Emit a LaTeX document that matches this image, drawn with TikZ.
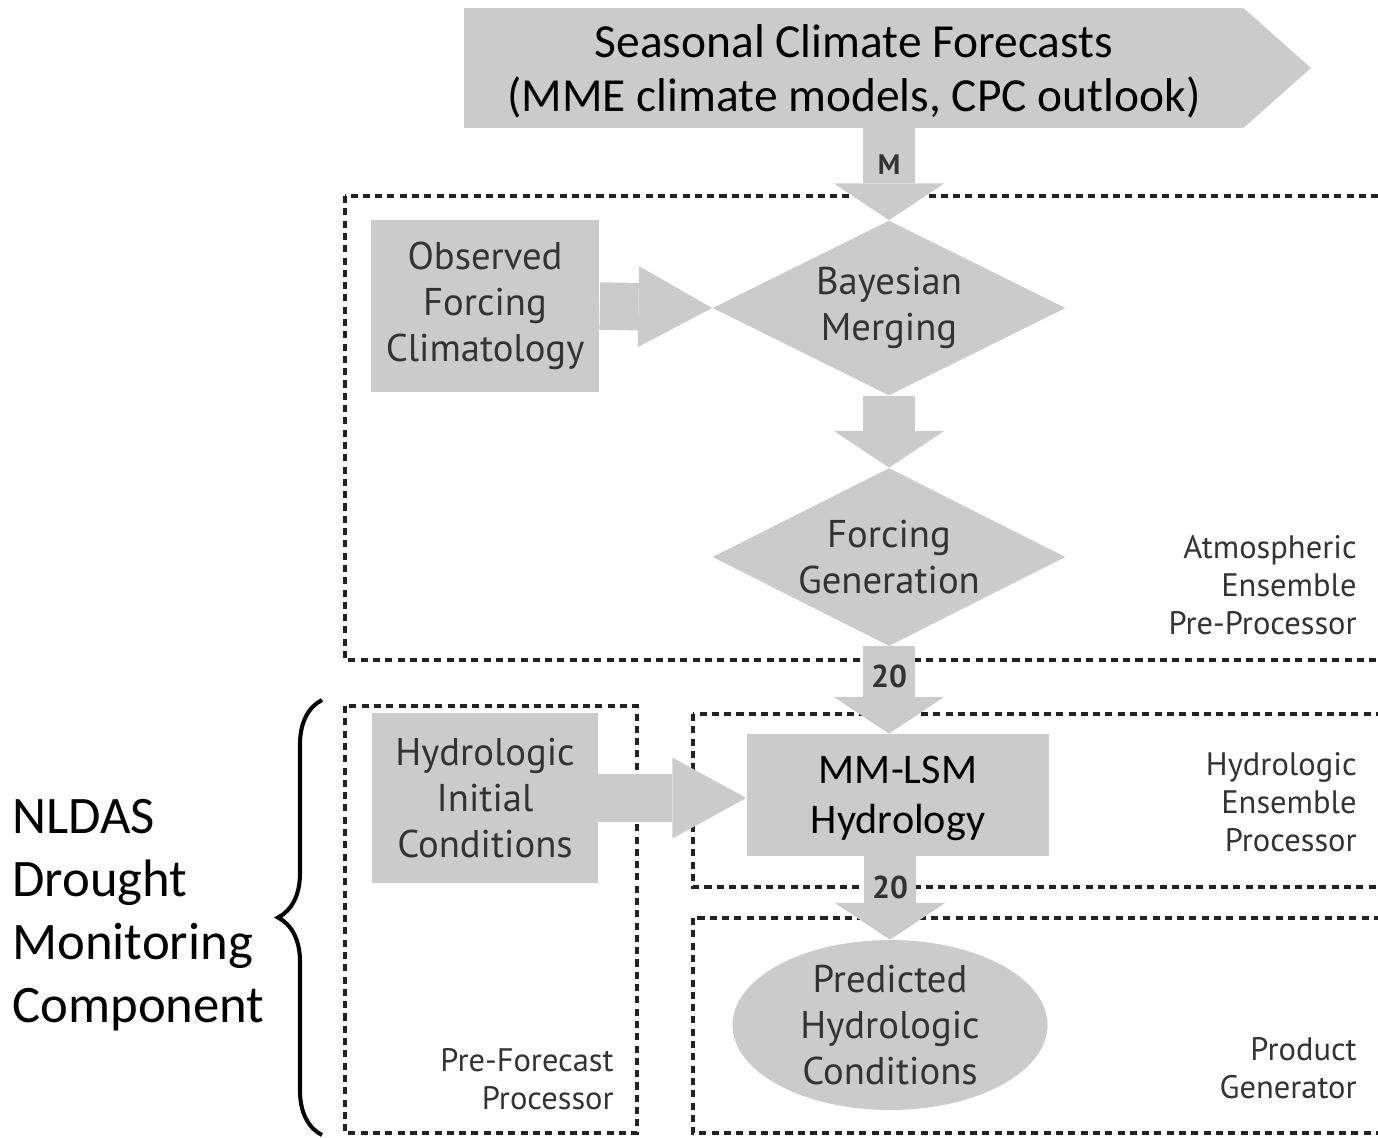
\documentclass[tikz,border=0pt]{standalone}
\usepackage{fontspec}
\setmainfont{Carlito}
\newfontfamily\figfont{PT Sans}
\usetikzlibrary{arrows.meta, shapes.geometric, decorations.pathreplacing}

\definecolor{boxgray}{HTML}{CBCBCB}
\definecolor{figtext}{HTML}{333333}
\definecolor{zoneline}{HTML}{222222}

\tikzset{
  box/.style={fill=boxgray, inner sep=0pt, align=center, text=figtext,
    font=\figfont\fontsize{22}{26}\selectfont},
  zone/.style={draw=zoneline, line width=2pt, dash pattern=on 4pt off 3pt},
  zone label/.style={inner sep=0pt, align=right, anchor=east, text=figtext,
    font=\figfont\fontsize{18.5}{21.5}\selectfont},
  down arrow/.style={draw=boxgray, line width=30pt,
    -{Triangle[width=63pt, length=21pt, line width=0pt]}},
  side arrow/.style={draw=boxgray, line width=27pt,
    -{Triangle[width=46pt, length=42pt, line width=0pt]}},
  ens count/.style={inner sep=0pt, text=figtext,
    font=\figfont\bfseries\fontsize{18}{20}\selectfont},
}

\begin{document}
\begin{tikzpicture}[x=0.02cm, y=-0.02cm]
  \useasboundingbox (0,0) rectangle (1378,1137);

  % Dotted processor zones
  \draw[zone] (345,196) rectangle (1400,660);
  \draw[zone] (345,706) rectangle (637,1133);
  \draw[zone] (693,714) rectangle (1400,887);
  \draw[zone] (693,918) rectangle (1400,1133);

  % Zone labels
  \node[zone label] (atmoslbl) at (1357,585) {Atmospheric\\Ensemble\\Pre-Processor};
  \node[zone label] (hydrolbl) at (1357,802) {Hydrologic\\Ensemble\\Processor};
  \node[zone label] (prodlbl) at (1357,1068) {Product\\Generator};
  \node[zone label] (prelbl) at (614,1079) {Pre-Forecast\\Processor};

  % Forecast banner
  \node[fill=boxgray, minimum width=15.62cm, minimum height=2.4cm, inner sep=0pt,
    text depth=0pt, align=center, font=\fontsize{27}{31}\selectfont] (banner) at (854,68)
    {Seasonal Climate Forecasts\\(MME climate models, CPC outlook)};
  \fill[boxgray] ([xshift=-1pt]banner.north east) -- (1311,68)
    -- ([xshift=-1pt]banner.south east) -- cycle;

  % Process nodes
  \node[box, minimum width=4.58cm, minimum height=3.44cm] (obs) at (485,306)
    {Observed\\Forcing\\Climatology};
  \node[box, diamond, aspect=2, minimum width=7.06cm, minimum height=3.5cm] (bayes)
    at (889,308) {Bayesian\\Merging};
  \node[box, diamond, aspect=2, minimum width=7.06cm, minimum height=3.56cm] (forc)
    at (889,557) {Forcing\\Generation};
  \node[box, minimum width=4.52cm, minimum height=3.4cm] (hic) at (485,798)
    {Hydrologic\\Initial\\Conditions};
  \node[box, text=black, text depth=0pt, font=\fontsize{24}{28.5}\selectfont,
    minimum width=6.06cm, minimum height=2.44cm] (mmlsm) at (898,795)
    {MM-LSM\\Hydrology};
  \node[box, ellipse, inner ysep=-3pt, minimum width=6.3cm, minimum height=3.4cm]
    (pred) at (890,1025) {Predicted\\Hydrologic\\Conditions};

  % Flow arrows
  \draw[down arrow] (bayes.north |- banner.south) --
    node[ens count, pos=0.4, font=\figfont\bfseries\fontsize{16}{18}\selectfont] (mlbl) {M} (bayes.north);
  \draw[down arrow] (bayes.south) -- (forc.north);
  \draw[down arrow] (forc.south) --
    node[ens count, pos=0.34] (cnta) {20} (forc.south |- mmlsm.north);
  \draw[down arrow] (pred.north |- mmlsm.south) --
    node[ens count, pos=0.37] (cntb) {20} (pred.north);
  \draw[side arrow] (obs.east) -- (bayes.west);
  \draw[side arrow] (hic.east) -- (mmlsm.west |- hic.east);

  % Brace and component name
  \draw[line width=2.3pt, decorate, decoration={brace, amplitude=0.88cm}]
    (322,1135) -- (322,700);
  \node[anchor=west, align=left, inner sep=0pt, font=\fontsize{30}{36}\selectfont]
    (nldas) at (12,915) {NLDAS\\Drought\\Monitoring\\Component};
\end{tikzpicture}
\end{document}
